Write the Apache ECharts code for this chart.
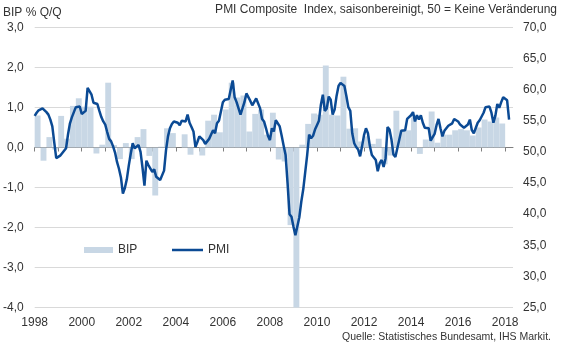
<!DOCTYPE html>
<html>
<head>
<meta charset="utf-8">
<script src="https://cdn.jsdelivr.net/npm/echarts@6/dist/echarts.min.js"></script>
<style>
  html, body { margin: 0; padding: 0; background: #ffffff; }
  #chart { width: 563px; height: 348px; }
</style>
</head>
<body>
<div id="chart"></div>
<script>
// GDP growth, % quarter on quarter, starting 1998 Q1
const bipStartYear = 1998;
const bipValues = [
  0.80, -0.33, 0.26, -0.05,
  0.79, 0.22, 1.04, 1.23,
  1.02, 1.02, -0.15, 0.07,
  1.62, 0.06, -0.29, 0.11,
  -0.29, 0.26, 0.46, -0.21,
  -1.20, 0.02, 0.48, 0.36,
  0.00, 0.33, -0.18, 0.00,
  -0.20, 0.67, 0.82, 0.38,
  0.95, 1.62, 1.25, 1.30,
  0.40, 0.84, 0.95, 0.32,
  0.87, -0.30, -0.35, -1.94,
  -4.00, 0.07, 0.59, 0.85,
  0.82, 2.05, 0.82, 0.80,
  1.77, 0.47, 0.48, 0.15,
  0.28, 0.09, 0.22, -0.42,
  -0.20, 0.92, 0.45, 0.43,
  0.75, -0.16, 0.20, 0.90,
  0.12, 0.32, 0.32, 0.43,
  0.46, 0.43, 0.30, 0.50,
  0.70, 0.65, 0.75, 0.60
];

// PMI Composite, monthly, starting January 1998
const pmiStartYear = 1998;
const pmiValues = [
  55.8, 56.3, 56.7, 57.0, 57.0, 56.7, 56.4, 56.0, 55.2, 54.1, 51.5, 49.0,
  49.1, 49.4, 49.8, 49.5, 50.6, 52.8, 54.6, 55.6, 56.4, 57.2, 57.5, 57.3,
  56.1, 55.9, 56.6, 60.3, 60.5, 59.2, 57.9, 57.7, 57.7, 56.6, 55.6, 54.9,
  54.4, 53.2, 52.1, 51.7, 50.9, 49.9, 48.4, 47.3, 45.9, 43.3, 44.2, 45.6,
  47.8, 49.7, 51.4, 50.6, 50.5, 51.1, 50.0, 47.5, 44.6, 48.6, 47.9, 47.9,
  46.8, 47.2, 46.0, 45.8, 45.5, 45.3, 47.0, 50.3, 52.5, 53.8, 54.5, 54.9,
  55.1, 54.7, 54.3, 55.0, 55.1, 54.9, 56.0, 54.7, 54.0, 53.3, 50.8, 51.6,
  52.5, 52.2, 51.9, 51.3, 51.6, 52.1, 52.8, 53.5, 53.0, 54.6, 55.0, 55.0,
  58.0, 58.4, 58.6, 58.5, 58.4, 61.5, 58.8, 58.0, 57.0, 56.0, 57.0, 58.0,
  59.4, 58.8, 58.2, 57.5, 57.3, 58.6, 58.9, 57.0, 55.3, 54.9, 53.8, 52.6,
  51.9, 53.8, 53.3, 55.1, 55.0, 54.1, 52.6, 51.0, 49.5, 45.0, 40.0, 39.6,
  38.0, 36.6, 36.8, 39.5, 42.0, 44.0, 44.1, 49.5, 52.8, 52.2, 52.6, 53.6,
  54.3, 55.0, 57.6, 59.2, 56.6, 57.0, 58.9, 58.4, 56.0, 56.8, 59.0, 60.6,
  61.1, 61.3, 60.6, 59.0, 57.2, 56.6, 53.0, 51.4, 50.8, 50.4, 49.3, 50.9,
  52.7, 53.8, 53.0, 50.9, 49.5, 49.5, 48.7, 46.9, 48.2, 48.7, 47.6, 49.0,
  54.0, 53.6, 52.0, 49.6, 49.2, 50.6, 52.0, 53.4, 53.3, 53.5, 55.3, 55.2,
  55.9, 56.4, 54.9, 55.9, 55.2, 55.9, 54.7, 53.9, 54.1, 53.8, 51.8, 51.9,
  52.9, 54.3, 55.3, 53.8, 52.5, 53.4, 53.8, 54.2, 54.1, 54.6, 55.3, 55.2,
  54.9, 54.4, 54.3, 53.9, 54.1, 54.4, 55.2, 53.5, 53.0, 52.7, 54.7, 55.1,
  55.1, 56.3, 57.2, 57.1, 57.3, 56.3, 54.7, 55.8, 57.7, 57.1, 58.0, 58.8,
  59.0, 58.3, 55.2
];

// Axis ticks and labels
const yearTicks = [1998, 1999, 2000, 2001, 2002, 2003, 2004, 2005, 2006, 2007, 2008,
                   2009, 2010, 2011, 2012, 2013, 2014, 2015, 2016, 2017, 2018];
const yearLabels = [1998, 2000, 2002, 2004, 2006, 2008, 2010, 2012, 2014, 2016, 2018];
const bipTicks = [-4, -3, -2, -1, 0, 1, 2, 3];
const pmiTicks = [25, 30, 35, 40, 45, 50, 55, 60, 65, 70];

const seriesNames = ['BIP', 'PMI'];
const titleLeft = 'BIP % Q/Q';
const titleRight = 'PMI Composite  Index, saisonbereinigt, 50 = Keine Veränderung';
const sourceNote = 'Quelle: Statistisches Bundesamt, IHS Markit.';

// ---- layout & styling ----
const FONT = "'Liberation Sans', Arial, sans-serif";
const TEXT = '#333333';
const BAR_COLOR = '#c8d7e5';
const LINE_COLOR = '#0b4a94';
const W = 563, H = 348;
const grid = { left: 34, right: 50, top: 27.5, bottom: 40.5 };
const xMin = yearTicks[0];
const xMax = yearTicks[yearTicks.length - 1] + 4 / 12;
const quarterPx = (W - grid.left - grid.right) / (xMax - xMin) / 4;

const comma = v => v.toFixed(1).replace('.', ',');

const bipData = bipValues.map((v, i) => [bipStartYear + i / 4 + 1 / 8, v]);
const pmiData = pmiValues.map((v, i) => [pmiStartYear + i / 12, v]);

const legendText = { fontSize: 12, color: TEXT, fontFamily: FONT };
const titleText = size => ({ fontSize: size, fontWeight: 'normal', color: TEXT, fontFamily: FONT });

const chart = echarts.init(document.getElementById('chart'), null, { renderer: 'canvas' });
chart.setOption({
  animation: false,
  backgroundColor: '#ffffff',
  textStyle: { fontFamily: FONT },
  title: [
    { text: titleLeft, left: 3, top: 7, padding: 0, textStyle: titleText(12) },
    { text: titleRight, right: 6, top: 4, padding: 0, textStyle: titleText(12) },
    { text: sourceNote, right: 12, bottom: 5, padding: 0, textStyle: titleText(10.5) }
  ],
  legend: [
    {
      data: [{ name: seriesNames[0], icon: 'rect' }],
      left: 84, top: 244, padding: 0,
      itemWidth: 29, itemHeight: 6,
      textStyle: legendText
    },
    {
      data: [{ name: seriesNames[1], icon: 'rect' }],
      left: 172, top: 244, padding: 0,
      itemWidth: 31, itemHeight: 2.5,
      itemStyle: { color: LINE_COLOR },
      textStyle: legendText
    }
  ],
  grid: { left: grid.left, right: grid.right, top: grid.top, bottom: grid.bottom, containLabel: false },
  xAxis: [
    {
      type: 'value', min: xMin, max: xMax, position: 'bottom',
      axisLine: { show: true, onZero: true, onZeroAxisIndex: 0, lineStyle: { color: '#7f7f7f', width: 1 } },
      axisTick: { show: true, length: 4, customValues: yearTicks, lineStyle: { color: '#7f7f7f', width: 1 } },
      axisLabel: { show: false },
      splitLine: { show: false }
    },
    {
      type: 'value', min: xMin, max: xMax, position: 'bottom',
      axisLine: { show: false, onZero: false },
      axisTick: { show: false },
      axisLabel: { show: true, customValues: yearLabels, formatter: v => String(v), margin: 9,
                   fontSize: 12, color: TEXT, fontFamily: FONT },
      splitLine: { show: false }
    }
  ],
  yAxis: [
    {
      type: 'value', position: 'left',
      min: bipTicks[0], max: bipTicks[bipTicks.length - 1], interval: bipTicks[1] - bipTicks[0],
      axisLine: { show: false }, axisTick: { show: false },
      axisLabel: { formatter: comma, margin: 11, fontSize: 12, color: TEXT, fontFamily: FONT },
      splitLine: { show: true, lineStyle: { color: '#d9d9d9', width: 1 } }
    },
    {
      type: 'value', position: 'right',
      min: pmiTicks[0], max: pmiTicks[pmiTicks.length - 1], interval: pmiTicks[1] - pmiTicks[0],
      axisLine: { show: false }, axisTick: { show: false },
      axisLabel: { formatter: comma, margin: 10, fontSize: 12, color: TEXT, fontFamily: FONT },
      splitLine: { show: false }
    }
  ],
  series: [
    {
      name: seriesNames[0], type: 'bar', xAxisIndex: 0, yAxisIndex: 0,
      data: bipData, barWidth: quarterPx,
      itemStyle: { color: BAR_COLOR }, z: 1
    },
    {
      name: seriesNames[1], type: 'line', xAxisIndex: 0, yAxisIndex: 1,
      data: pmiData, symbol: 'none', showSymbol: false, smooth: false,
      lineStyle: { color: LINE_COLOR, width: 2.5 }, itemStyle: { color: LINE_COLOR }, z: 3
    }
  ]
});
</script>
</body>
</html>
